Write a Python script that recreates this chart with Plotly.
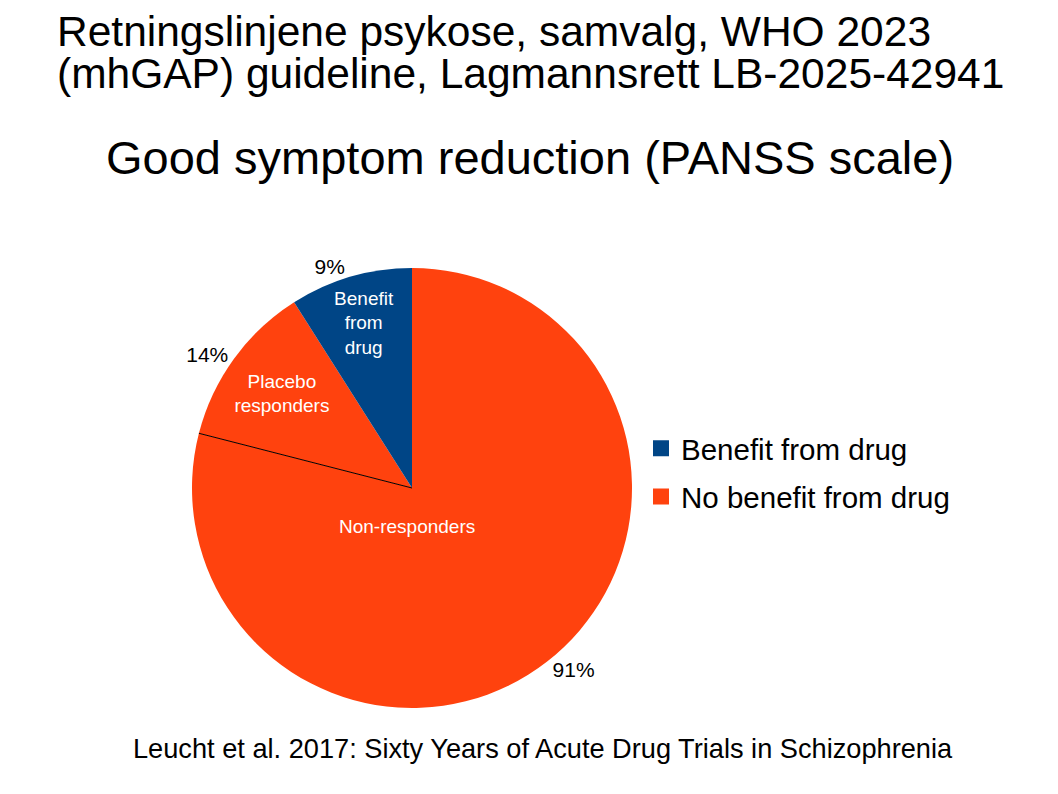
import math
import plotly.graph_objects as go

# pie as drawn in the slide, clockwise from 12 o'clock
slice_names = ["Non-responders", "Placebo responders", "Benefit from drug"]
slice_values = [79, 12, 9]
slice_inside_text = ["Non-responders", "Placebo<br>responders", "Benefit<br>from<br>drug"]
slice_outside_text = ["91%", "14%", "9%"]

# legend groups
legend_names = ["Benefit from drug", "No benefit from drug"]

BLUE = "#004586"
ORANGE = "#ff420e"
slice_colors = [ORANGE, ORANGE, BLUE]
legend_colors = [BLUE, ORANGE]

FONT = "Liberation Sans, Arial, sans-serif"
W, H = 1058, 794
OFF = 8  # page body margin


def px(x):
    return (x - OFF) / W


def py(y):
    return 1 - (y - OFF) / H


# pie centre and radius in page pixels
CX, CY, R = 412, 488, 220
pie_domain = dict(x=[px(CX - R), px(CX + R)], y=[py(CY + R), py(CY - R)])

fig = go.Figure()

# coloured pie with the inside labels (big slice label placed below the centre, as on the slide)
fig.add_trace(go.Pie(
    labels=slice_names,
    values=slice_values,
    sort=False,
    direction="clockwise",
    marker=dict(colors=slice_colors, line=dict(width=0)),
    text=[""] + slice_inside_text[1:],
    textinfo="text",
    textposition="inside",
    insidetextorientation="horizontal",
    insidetextfont=dict(family=FONT, size=19, color="white"),
    hoverinfo="label+value",
    showlegend=False,
    domain=pie_domain,
))

# same slices, transparent, only for the percentage labels outside
fig.add_trace(go.Pie(
    labels=slice_names,
    values=slice_values,
    sort=False,
    direction="clockwise",
    marker=dict(colors=["rgba(0,0,0,0)"] * 3, line=dict(width=0)),
    text=slice_outside_text,
    textinfo="text",
    textposition="outside",
    outsidetextfont=dict(family=FONT, size=21, color="black"),
    hoverinfo="skip",
    showlegend=False,
    domain=pie_domain,
))

# legend entries
for name, col in zip(legend_names, legend_colors):
    fig.add_trace(go.Scatter(
        x=[None], y=[None], mode="markers", name=name, legendgroup=name,
        marker=dict(symbol="square", size=17, color=col),
    ))

# thin black divider between the two orange slices
theta = 2 * math.pi * slice_values[0] / sum(slice_values)
edge_x = CX + R * math.sin(theta)
edge_y = CY - R * math.cos(theta)
fig.add_shape(type="line", xref="paper", yref="paper",
              x0=px(CX), y0=py(CY), x1=px(edge_x), y1=py(edge_y),
              line=dict(color="black", width=1), layer="above")

fig.update_layout(
    width=W,
    height=H,
    margin=dict(l=0, r=0, t=0, b=0),
    paper_bgcolor="white",
    plot_bgcolor="white",
    font=dict(family=FONT, color="black"),
    xaxis=dict(visible=False),
    yaxis=dict(visible=False),
    legend=dict(
        x=px(641), y=py(422.5), xanchor="left", yanchor="top",
        font=dict(family=FONT, size=29.5, color="black"),
        tracegroupgap=7,
        bgcolor="rgba(0,0,0,0)",
    ),
    annotations=[
        dict(text="Retningslinjene psykose, samvalg, WHO 2023", x=px(55), y=py(31),
             xref="paper", yref="paper", xanchor="left", yanchor="middle",
             showarrow=False, font=dict(size=42.5)),
        dict(text="(mhGAP) guideline, Lagmannsrett LB-2025-42941", x=px(55), y=py(74),
             xref="paper", yref="paper", xanchor="left", yanchor="middle",
             showarrow=False, font=dict(size=42.5)),
        dict(text="Good symptom reduction (PANSS scale)", x=px(530), y=py(157),
             xref="paper", yref="paper", xanchor="center", yanchor="middle",
             showarrow=False, font=dict(size=47)),
        dict(text=slice_inside_text[0], x=px(407), y=py(526),
             xref="paper", yref="paper", xanchor="center", yanchor="middle",
             showarrow=False, font=dict(size=19, color="white")),
        dict(text="Leucht et al. 2017: Sixty Years of Acute Drug Trials in Schizophrenia",
             x=px(543), y=py(748),
             xref="paper", yref="paper", xanchor="center", yanchor="middle",
             showarrow=False, font=dict(size=27.2)),
    ],
)

fig.write_html("out.html")
